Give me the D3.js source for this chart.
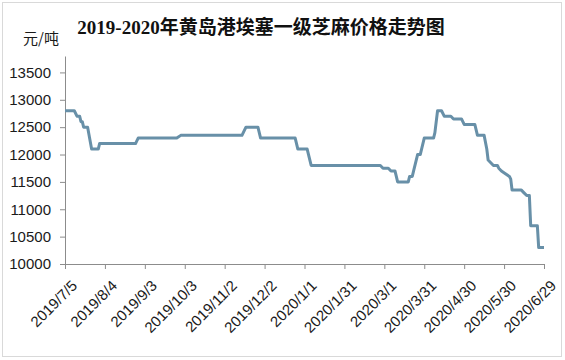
<!DOCTYPE html>
<html>
<head>
<meta charset="utf-8">
<script src="https://cdn.jsdelivr.net/npm/d3@7/dist/d3.min.js"></script>
<style>
	html, body { margin: 0; padding: 0; background: #fff; }
	svg { display: block; }
	.axis path, .axis line { stroke: #8c8c8c; }
	.axis text { font-family: "Liberation Sans", Arial, sans-serif; font-size: 15px; fill: #1a1a1a; }
</style>
</head>
<body>
<svg id="chart" width="565" height="360"></svg>
<script>
var chartTitle = "2019-2020年黄岛港埃塞一级芝麻价格走势图",
	unitLabel = "元/吨";

// fechas y precios
var priceDates = [
	"2019-07-05", "2019-07-12", "2019-07-14", "2019-07-16", "2019-07-17", "2019-07-18",
	"2019-07-19", "2019-07-22", "2019-07-25", "2019-07-30", "2019-07-31", "2019-08-27",
	"2019-08-29", "2019-09-27", "2019-09-30", "2019-11-15", "2019-11-18", "2019-11-27",
	"2019-11-29", "2019-12-25", "2019-12-27", "2020-01-03", "2020-01-06", "2020-02-27",
	"2020-02-29", "2020-03-04", "2020-03-06", "2020-03-09", "2020-03-11", "2020-03-19",
	"2020-03-20", "2020-03-22", "2020-03-23", "2020-03-26", "2020-03-28", "2020-03-31",
	"2020-04-07", "2020-04-08", "2020-04-10", "2020-04-13", "2020-04-15", "2020-04-20",
	"2020-04-22", "2020-04-28", "2020-04-30", "2020-05-08", "2020-05-10", "2020-05-15",
	"2020-05-17", "2020-05-18", "2020-05-20", "2020-05-22", "2020-05-25", "2020-05-26",
	"2020-05-28", "2020-05-31", "2020-06-03", "2020-06-04", "2020-06-05", "2020-06-12",
	"2020-06-14", "2020-06-16", "2020-06-18", "2020-06-19", "2020-06-24", "2020-06-25",
	"2020-06-29"
];

var priceValues = [
	12800, 12800, 12700, 12700, 12600, 12600,
	12500, 12500, 12100, 12100, 12200, 12200,
	12300, 12300, 12350, 12350, 12500, 12500,
	12300, 12300, 12100, 12100, 11800, 11800,
	11750, 11750, 11700, 11700, 11500, 11500,
	11600, 11600, 11700, 12000, 12000, 12300,
	12300, 12400, 12800, 12800, 12700, 12700,
	12650, 12650, 12550, 12550, 12350, 12350,
	12100, 11900, 11850, 11800, 11800, 11750,
	11700, 11650, 11600, 11550, 11350, 11350,
	11300, 11250, 11250, 10700, 10700, 10300,
	10300
];

var xTickDates = [
	"2019-07-05", "2019-08-04", "2019-09-03", "2019-10-03", "2019-11-02", "2019-12-02",
	"2020-01-01", "2020-01-31", "2020-03-01", "2020-03-31", "2020-04-30", "2020-05-30",
	"2020-06-29"
];

var yTickValues = [10000, 10500, 11000, 11500, 12000, 12500, 13000, 13500];

var parseDate = d3.timeParse("%Y-%m-%d"),
	formatTick = function(d) {
		return d.getFullYear() + "/" + (d.getMonth() + 1) + "/" + d.getDate();
	};

var data = priceDates.map(function(d, i) {
	return { date: parseDate(d), value: priceValues[i] };
});

var svg = d3.select("#chart"),
	plotLeft = 65, plotRight = 544, plotTop = 56, plotBottom = 264;

svg.append("rect")
	.attr("x", 2.5).attr("y", 2.5)
	.attr("width", 559).attr("height", 354)
	.attr("fill", "#fff")
	.attr("stroke", "#d9d9d9");

var x = d3.scaleTime()
	.domain([parseDate("2019-07-05"), parseDate("2020-06-29")])
	.range([plotLeft, plotRight]);

var y = d3.scaleLinear()
	.domain([10000, 13800])
	.range([plotBottom, plotTop]);

svg.append("g")
	.attr("class", "axis")
	.attr("transform", "translate(" + plotLeft + ",0)")
	.call(d3.axisLeft(y)
		.tickValues(yTickValues)
		.tickFormat(d3.format("d"))
		.tickSize(5)
		.tickSizeOuter(0)
		.tickPadding(9));

var xAxis = svg.append("g")
	.attr("class", "axis")
	.attr("transform", "translate(0," + plotBottom + ")")
	.call(d3.axisBottom(x)
		.tickValues(xTickDates.map(parseDate))
		.tickSize(5)
		.tickSizeOuter(0)
		.tickFormat(""));

xAxis.selectAll(".tick")
	.append("text")
	.attr("transform", "translate(5,15) rotate(-45)")
	.attr("dy", "0.72em")
	.attr("text-anchor", "end")
	.text(formatTick);

var line = d3.line()
	.x(function(d) { return x(d.date); })
	.y(function(d) { return y(d.value); });

svg.append("path")
	.datum(data)
	.attr("fill", "none")
	.attr("stroke", "#6890a8")
	.attr("stroke-width", 3)
	.attr("stroke-linejoin", "round")
	.attr("d", line);

svg.append("text")
	.attr("x", 261)
	.attr("y", 34)
	.attr("text-anchor", "middle")
	.attr("font-family", "'Liberation Serif', 'Noto Sans CJK SC', serif")
	.attr("font-size", 19)
	.attr("font-weight", "bold")
	.attr("fill", "#111")
	.text(chartTitle);

svg.append("text")
	.attr("x", 23)
	.attr("y", 44)
	.attr("font-family", "'Noto Sans CJK SC', sans-serif")
	.attr("font-size", 15)
	.attr("fill", "#1a1a1a")
	.text(unitLabel);
</script>
</body>
</html>
